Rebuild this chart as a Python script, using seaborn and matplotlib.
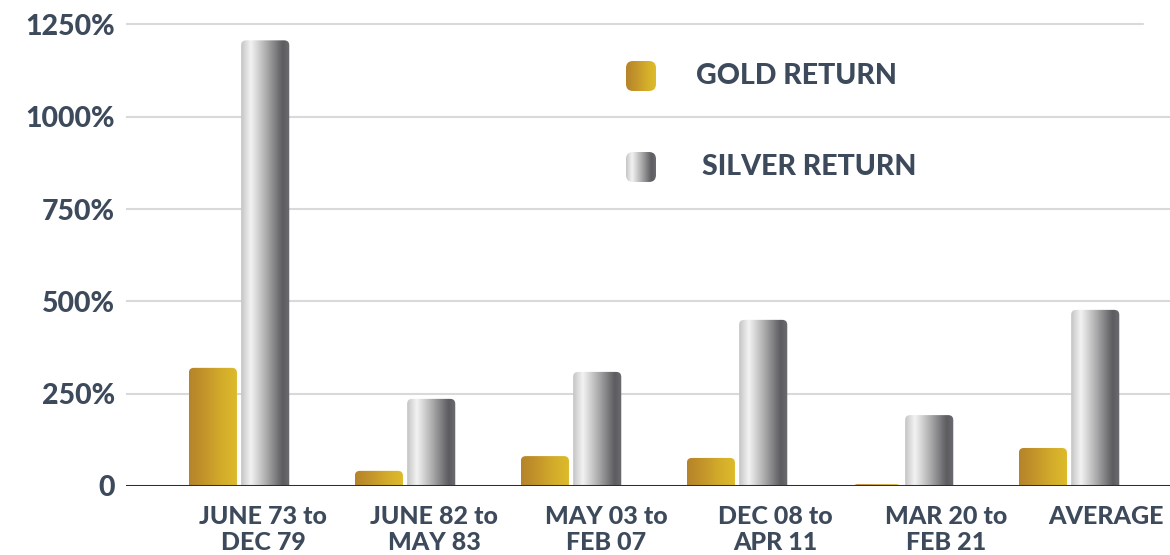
import numpy as np
import pandas as pd
import matplotlib
matplotlib.use("Agg")
import matplotlib.pyplot as plt
from matplotlib.colors import LinearSegmentedColormap
from matplotlib.patches import FancyBboxPatch
import seaborn as sns

# Returns (%) per bull-market period
periods = ["JUNE 73 to\nDEC 79", "JUNE 82 to\nMAY 83", "MAY 03 to\nFEB 07",
           "DEC 08 to\nAPR 11", "MAR 20 to\nFEB 21", "AVERAGE"]
gold_return = [320, 41, 81, 76, 5, 103]
silver_return = [1207, 236, 309, 450, 192, 477]
series_names = ["GOLD RETURN", "SILVER RETURN"]
y_ticks = [0, 250, 500, 750, 1000, 1250]
y_tick_labels = ["0", "250%", "500%", "750%", "1000%", "1250%"]

# horizontal placement of each category label relative to its group centre
label_shift = [0.145, 0.175, 0.21, 0.23, 0.26, 0.22]

TEXT = "#3d4a5b"
GOLD_MID = "#c9a02a"
SILVER_MID = "#9a9a9c"

gold_cmap = LinearSegmentedColormap.from_list(
    "gold", ["#b5842a", "#c4952a", "#d3ac2b", "#ddbc2a"])
silver_cmap = LinearSegmentedColormap.from_list(
    "silver", [(0.0, "#c4c4c4"), (0.2, "#f3f3f3"), (0.5, "#b0b0b1"),
               (0.85, "#5d5d61"), (1.0, "#6c6c70")])

sns.set_theme(style="white")
plt.rcParams["font.family"] = ["Lato", "DejaVu Sans"]

df = pd.DataFrame({
    "period": periods * 2,
    "metal": [series_names[0]] * len(periods) + [series_names[1]] * len(periods),
    "ret": gold_return + silver_return,
})

fig = plt.figure(figsize=(11.7, 5.55), dpi=100)
ax = fig.add_axes([126 / 1170, 1 - 486 / 555, 1 - 126 / 1170, (486 - 6) / 555])

sns.barplot(data=df, x="period", y="ret", hue="metal",
            palette=[GOLD_MID, SILVER_MID], saturation=1, width=0.63,
            gap=0.08, legend=False, ax=ax, zorder=3)

XLIM = (-0.681, 5.608)
YLIM = (0, 1300)
ax.set_xlim(*XLIM)
ax.set_ylim(*YLIM)

# pixel scale of data units, used for corner rounding
ax_w_px = fig.get_figwidth() * fig.dpi * ax.get_position().width
ax_h_px = fig.get_figheight() * fig.dpi * ax.get_position().height
ux = (XLIM[1] - XLIM[0]) / ax_w_px
uy = (YLIM[1] - YLIM[0]) / ax_h_px
grad = np.linspace(0, 1, 256).reshape(1, -1)


def rounded_clip(x, y, w, h, r_px):
    rx, ry = r_px * ux, r_px * uy
    clip = FancyBboxPatch((x, y), w, h,
                          boxstyle=f"round,pad=0,rounding_size={rx}",
                          mutation_aspect=ry / rx, transform=ax.transData,
                          facecolor="none", edgecolor="none")
    ax.add_patch(clip)
    return clip


def gradient_bar(patch, cmap, r_px=5):
    x, y = patch.get_x(), patch.get_y()
    w, h = patch.get_width(), patch.get_height()
    patch.set_visible(False)
    im = ax.imshow(grad, cmap=cmap, extent=[x, x + w, y, y + h],
                   aspect="auto", origin="lower", zorder=3,
                   interpolation="bicubic")
    below = 3 * r_px * uy
    im.set_clip_path(rounded_clip(x, y - below, w, h + below, r_px))


for container, cmap in zip(ax.containers, [gold_cmap, silver_cmap]):
    for p in container:
        gradient_bar(p, cmap)

ax.set_xlim(*XLIM)
ax.set_ylim(*YLIM)

# grid
for v in y_ticks[1:]:
    xmax = (1143 - 126) / (1170 - 126) if v == y_ticks[-1] else 1.0
    ax.axhline(v, xmin=0, xmax=xmax, color="#d9d9d9", lw=1.5, zorder=1)
ax.axhline(0, color="#2e2e2e", lw=2.2, zorder=4)

for s in ax.spines.values():
    s.set_visible(False)

ax.set_yticks(y_ticks)
ax.set_yticklabels(y_tick_labels)
ax.set_xticks(np.arange(len(periods)) + np.array(label_shift))
ax.set_xticklabels(periods, linespacing=1.15)
ax.tick_params(axis="both", length=0, colors=TEXT)
ax.tick_params(axis="y", pad=8, labelsize=20.5)
ax.tick_params(axis="x", pad=14, labelsize=18)
for t in ax.get_xticklabels() + ax.get_yticklabels():
    t.set_fontweight("black")
    t.set_color(TEXT)
ax.set_xlabel("")
ax.set_ylabel("")


# legend: gradient swatches with labels
def legend_item(x0_px, y0_px, cmap, label, tx_px):
    fx = lambda px: XLIM[0] + (px - 126) * ux
    fy = lambda py: (486 - py) * uy
    x0, x1 = fx(x0_px), fx(x0_px + 30)
    y1, y0 = fy(y0_px), fy(y0_px + 30)
    im = ax.imshow(grad, cmap=cmap, extent=[x0, x1, y0, y1], aspect="auto",
                   origin="lower", zorder=5, interpolation="bicubic")
    im.set_clip_path(rounded_clip(x0, y0, x1 - x0, y1 - y0, 7))
    ax.text(fx(tx_px), (y0 + y1) / 2, label, ha="left", va="center",
            fontsize=20.5, fontweight="black", color=TEXT, zorder=5)


legend_item(626, 61, gold_cmap, series_names[0], 696)
legend_item(626, 152, silver_cmap, series_names[1], 702)

ax.set_xlim(*XLIM)
ax.set_ylim(*YLIM)

fig.savefig("out.png", dpi=100, facecolor="white")
